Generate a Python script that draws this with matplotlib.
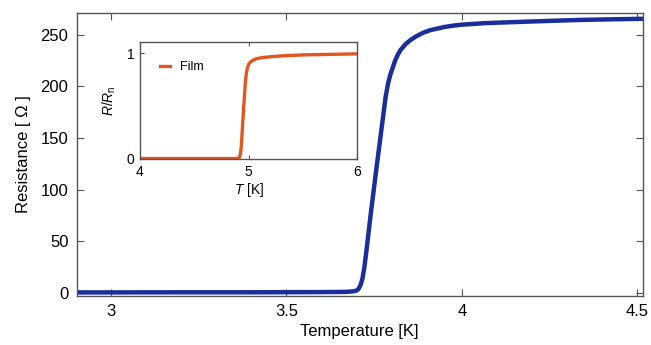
import matplotlib
matplotlib.use("Agg")
import matplotlib.pyplot as plt

plt.rcParams["font.family"] = ["Liberation Sans", "DejaVu Sans"]
plt.rcParams["mathtext.fontset"] = "custom"
plt.rcParams["mathtext.rm"] = "Liberation Sans"
plt.rcParams["mathtext.it"] = "Liberation Sans:italic"

# main sample: resistance vs temperature
temp_main = [2.90, 3.00, 3.20, 3.40, 3.60, 3.67, 3.69, 3.700, 3.706, 3.712,
             3.717, 3.722, 3.728, 3.740, 3.755, 3.769, 3.783, 3.790, 3.796,
             3.802, 3.810, 3.818, 3.826, 3.840, 3.854, 3.870, 3.890, 3.910,
             3.930, 3.950, 3.972, 4.000, 4.067, 4.140, 4.209, 4.280, 4.351,
             4.430, 4.515]
res_main = [0.5, 0.5, 0.6, 0.6, 0.8, 1.0, 1.5, 2.2, 4, 8,
            14, 24, 40, 75, 116, 153, 190, 203, 211,
            217, 225, 231, 235.5, 241, 245, 248.5, 252, 254.5,
            256, 257.5, 258.7, 259.8, 261.3, 262.2, 263, 263.8, 264.5,
            265, 265.5]

# inset: film, normalised resistance
temp_film = [4.0, 4.3, 4.6, 4.85, 4.900, 4.915, 4.925, 4.932, 4.940, 4.950,
             4.959, 4.968, 4.977, 4.988, 5.000, 5.014, 5.040, 5.076, 5.130,
             5.229, 5.350, 5.505, 5.750, 6.0]
rn_film = [0.0, 0.0, 0.0, 0.0, 0.0, 0.01, 0.05, 0.12, 0.25, 0.42,
           0.56, 0.70, 0.80, 0.86, 0.895, 0.915, 0.935, 0.95, 0.96,
           0.97, 0.978, 0.985, 0.99, 0.995]

BLUE = "#1a2e9b"
ORANGE = "#e2561f"
SPINE = "#555555"

fig = plt.figure(figsize=(6.51, 3.45), dpi=100)
ax = fig.add_axes([0.118, 0.142, 0.869, 0.820])
ax.plot(temp_main, res_main, color=BLUE, linewidth=3.2, solid_capstyle="round",
        solid_joinstyle="round")
ax.set_xlim(2.903, 4.515)
ax.set_ylim(-3, 271)
ax.set_xticks([3, 3.5, 4, 4.5])
ax.set_xticklabels(["3", "3.5", "4", "4.5"])
ax.set_yticks([0, 50, 100, 150, 200, 250])
ax.tick_params(direction="in", top=True, right=True, labelsize=12,
               length=5, width=0.8, color=SPINE, pad=6)
for s in ax.spines.values():
    s.set_color(SPINE)
    s.set_linewidth(1.0)
ax.set_xlabel("Temperature [K]", fontsize=12, labelpad=3)
ax.set_ylabel("Resistance [ \u03a9 ]", fontsize=12, labelpad=7)

ins = fig.add_axes([0.215, 0.539, 0.334, 0.340])
ins.plot(temp_film, rn_film, color=ORANGE, linewidth=2.4, label="Film",
         solid_joinstyle="round")
ins.set_xlim(4, 6)
ins.set_ylim(-0.005, 1.11)
ins.set_xticks([4, 5, 6])
ins.set_yticks([0, 1])
ins.tick_params(direction="in", top=True, right=True, labelsize=10,
                length=3, width=0.8, color=SPINE, pad=4)
for s in ins.spines.values():
    s.set_color(SPINE)
    s.set_linewidth(1.0)
ins.set_xlabel("$T$ [K]", fontsize=10, labelpad=2)
ins.set_ylabel("$R/R_{\\rm n}$", fontsize=10, labelpad=6)
ins.legend(loc="upper left", frameon=False, fontsize=9, handlelength=0.8,
           bbox_to_anchor=(0.04, 0.93))

fig.savefig("out.png", dpi=100)
